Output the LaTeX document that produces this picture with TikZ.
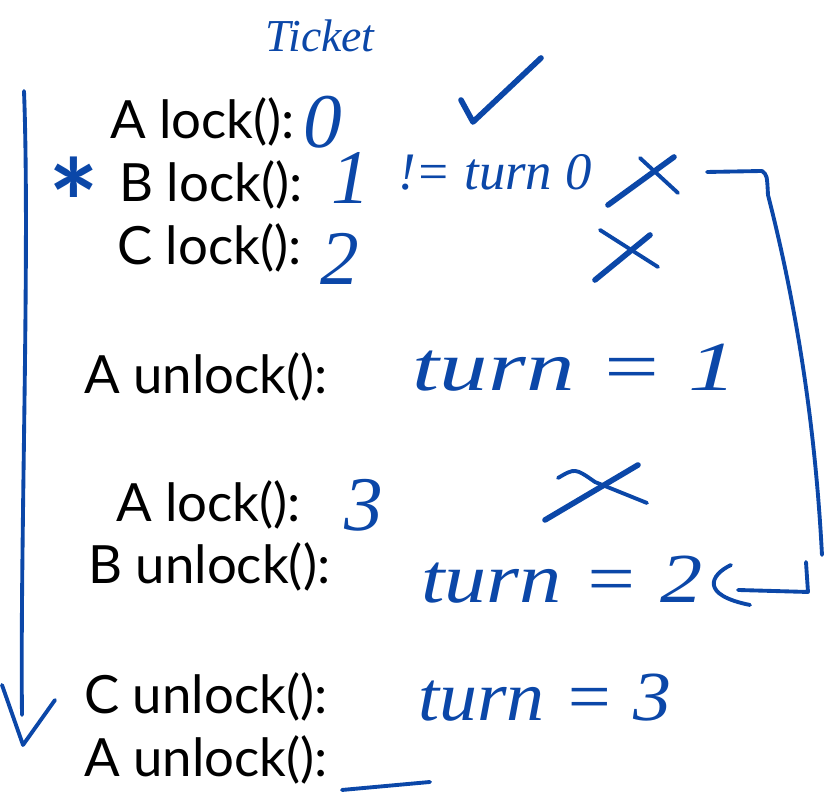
\documentclass[tikz,border=0pt]{standalone}
\usepackage{fontspec}
\setmainfont{Lato}
\newfontfamily\handfont{Liberation Serif}
\usepackage{xcolor}
\usepackage{tikz}
\usetikzlibrary{arrows.meta,positioning,calc}
\definecolor{InkBlue}{HTML}{0B47A8}

\begin{document}
\begin{tikzpicture}[
  opline/.style={anchor=west,inner sep=1pt,font=\fontsize{15}{17}\selectfont},
  tick/.style={inner sep=1pt,text=InkBlue,font=\handfont\itshape\fontsize{22}{24}\selectfont},
  note/.style={inner sep=1pt,text=InkBlue,font=\handfont\itshape\fontsize{15}{17}\selectfont},
  bignote/.style={inner sep=1pt,text=InkBlue,xscale=1.2,font=\handfont\itshape\fontsize{20}{22}\selectfont},
  ink/.style={draw=InkBlue,line width=1.6pt,line cap=round,line join=round},
  thinink/.style={draw=InkBlue,line width=1.1pt,line cap=round,line join=round}]
  \useasboundingbox (0,0) rectangle (8.27,-7.95);
  % operations
  \node[opline] (alock)    at (1.06,-1.22) {A lock():};
  \node[opline] (block)    at (1.15,-1.85) {B lock():};
  \node[opline] (clock)    at (1.13,-2.48) {C lock():};
  \node[opline] (aunlock)  at (0.80,-3.77) {A unlock():};
  \node[opline] (alockb)   at (1.12,-5.05) {A lock():};
  \node[opline] (bunlock)  at (0.84,-5.67) {B unlock():};
  \node[opline] (cunlock)  at (0.80,-6.97) {C unlock():};
  \node[opline] (aunlockb) at (0.80,-7.60) {A unlock():};
  % tickets
  \node[note,font=\handfont\itshape\fontsize{13}{15}\selectfont] (ticket) at (3.20,-0.36) {Ticket};
  \node[tick,right=0pt of alock]  (t0) {0};
  \node[tick,right=6pt of block,yshift=2pt]  (t1) {1};
  \node[tick,right=3pt of clock,yshift=-3pt] (t2) {2};
  \node[tick,right=10pt of alockb] (t3) {3};
  \node[text=InkBlue,font=\fontsize{34}{34}\selectfont\bfseries] (star) at (0.74,-2.02) {*};
  % turn notes
  \node[note] (neq) at (4.95,-1.72) {!= turn 0};
  \node[bignote,xscale=1.15] (turn1) at (5.75,-3.68) {turn = 1};
  \node[bignote] (turn2) at (5.62,-5.80) {turn = 2};
  \node[bignote,xscale=0.9] (turn3) at (5.45,-6.98) {turn = 3};
  % marks
  \draw[ink] (4.61,-1.00) -- (4.73,-1.22) -- (5.41,-0.58);
  \draw[ink] (6.08,-2.05) -- (6.74,-1.57);
  \draw[thinink] (6.40,-1.58) -- (6.78,-1.93);
  \draw[ink] (5.95,-2.80) -- (6.50,-2.35);
  \draw[thinink] (6.00,-2.30) -- (6.58,-2.67);
  \draw[ink] (5.45,-5.20) -- (6.38,-4.65);
  \draw[thinink] (5.58,-4.78) .. controls (5.75,-4.68) .. (5.95,-4.82) -- (6.47,-5.03);
  % time arrow
  \coordinate (top) at (0.24,-0.91);
  \coordinate (tip) at (0.23,-7.45);
  \draw[thinink] (top) .. controls (0.30,-2.5) and (0.20,-5.5) .. (0.22,-7.15);
  \draw[thinink] (0.02,-6.85) -- (tip) -- (0.55,-7.00);
  % loop back
  \coordinate (ra) at (7.07,-1.72);
  \coordinate (rb) at (7.62,-1.71);
  \coordinate (rc) at (8.22,-5.55);
  \draw[thinink] (ra) -- (rb) .. controls (7.67,-1.75) .. (7.68,-1.95)
    .. controls (7.95,-3.0) and (8.15,-4.2) .. (rc);
  \draw[thinink] (7.31,-5.65) .. controls (7.10,-5.75) and (7.00,-5.95) .. (7.50,-6.05);
  \draw[thinink] (7.38,-5.90) -- (8.08,-5.92) -- (8.06,-5.62);
  % blank
  \draw[thinink] (3.42,-7.90) -- (4.30,-7.82);
\end{tikzpicture}
\end{document}
